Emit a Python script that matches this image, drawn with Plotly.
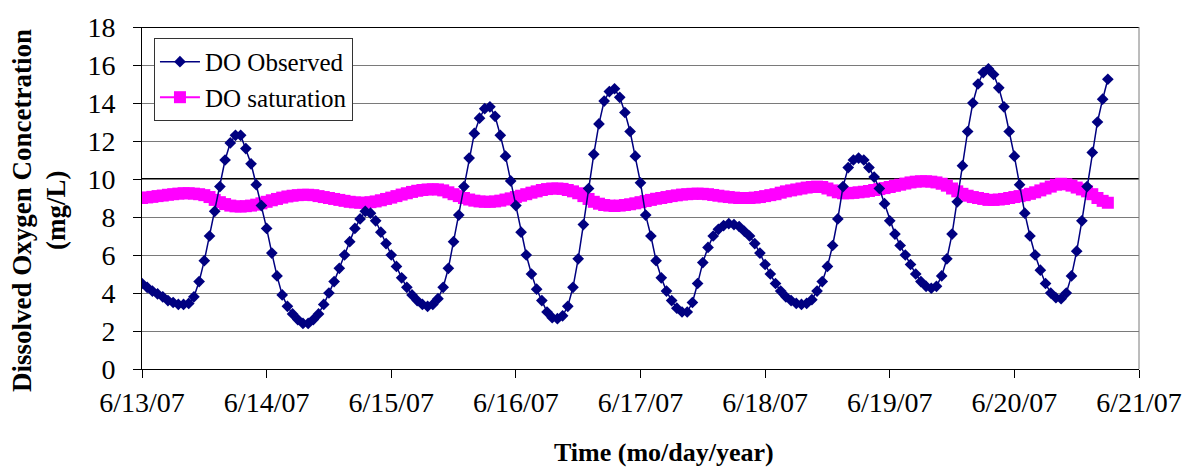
import plotly.graph_objects as go
import pandas as pd

start = "2007-06-13 00:00"
x_range = ["2007-06-13", "2007-06-21"]

do_observed = [
    4.5, 4.3, 4.1, 3.95, 3.8, 3.6, 3.5, 3.4, 3.4, 3.45, 3.8, 4.6, 5.7, 7.0, 8.3, 9.6, 11.0, 11.9, 12.3, 12.3,
    11.6, 10.8, 9.7, 8.6, 7.4, 6.1, 4.9, 3.9, 3.3, 2.9, 2.6, 2.4, 2.4, 2.6, 2.9, 3.4, 4.0, 4.6, 5.3, 6.0,
    6.7, 7.4, 7.9, 8.3, 8.2, 7.8, 7.2, 6.6, 6.0, 5.4, 4.8, 4.3, 3.9, 3.6, 3.4, 3.3, 3.4, 3.7, 4.3, 5.3,
    6.7, 8.1, 9.6, 11.1, 12.4, 13.2, 13.7, 13.8, 13.3, 12.3, 11.2, 9.9, 8.6, 7.2, 6.0, 5.0, 4.2, 3.6, 3.0, 2.7,
    2.65, 2.8, 3.3, 4.3, 5.8, 7.6, 9.5, 11.3, 12.9, 14.1, 14.6, 14.75, 14.3, 13.5, 12.5, 11.2, 9.8, 8.1, 7.0, 5.7,
    4.8, 4.1, 3.6, 3.2, 3.0, 3.0, 3.5, 4.5, 5.6, 6.4, 7.0, 7.35, 7.55, 7.65, 7.6, 7.5, 7.25, 7.0, 6.6, 6.1,
    5.5, 5.0, 4.5, 4.1, 3.8, 3.6, 3.45, 3.4, 3.45, 3.65, 4.1, 4.6, 5.4, 6.5, 7.9, 9.6, 10.6, 11.0, 11.1, 11.0,
    10.6, 10.1, 9.5, 8.7, 7.8, 7.1, 6.5, 6.0, 5.5, 5.0, 4.6, 4.35, 4.25, 4.35, 4.9, 5.8, 7.1, 8.8, 10.7, 12.5,
    14.0, 15.0, 15.6, 15.8, 15.5, 14.8, 13.8, 12.5, 11.2, 9.7, 8.2, 7.0, 6.0, 5.2, 4.5, 4.0, 3.75, 3.7, 4.0, 4.9,
    6.2, 7.8, 9.6, 11.4, 13.0, 14.2, 15.25,
]

do_saturation = [
    9.0, 9.03, 9.06, 9.1, 9.13, 9.17, 9.2, 9.23, 9.25, 9.25, 9.23, 9.2, 9.15,
    9.05, 8.9, 8.78, 8.68, 8.6, 8.56, 8.55,
    8.57, 8.6, 8.65, 8.72, 8.8, 8.88, 8.95, 9.02, 9.08, 9.12, 9.15, 9.17,
    9.17, 9.15, 9.1, 9.05, 9.0, 8.95, 8.9, 8.85, 8.8, 8.77, 8.75, 8.75,
    8.78, 8.82, 8.88, 8.95, 9.02, 9.1, 9.18, 9.25, 9.32, 9.38, 9.42, 9.45, 9.46, 9.45,
    9.4, 9.3, 9.2, 9.1, 9.0, 8.92, 8.86, 8.82, 8.8, 8.8,
    8.82, 8.86, 8.92, 8.98, 9.05, 9.12, 9.2, 9.28, 9.35, 9.42, 9.47, 9.5, 9.5, 9.48,
    9.42, 9.35, 9.25, 9.1, 8.95, 8.8, 8.7, 8.63, 8.6, 8.58, 8.6,
    8.63, 8.67, 8.72, 8.78, 8.84, 8.9, 8.96, 9.0, 9.05, 9.1, 9.14, 9.18, 9.2, 9.22, 9.23,
    9.22, 9.2, 9.16, 9.12, 9.08, 9.05, 9.02, 9.0, 9.0, 9.0,
    9.02, 9.05, 9.1, 9.15, 9.2, 9.28, 9.35, 9.4, 9.45, 9.5, 9.55, 9.58, 9.6, 9.58,
    9.5, 9.4, 9.3, 9.25, 9.25, 9.27, 9.3, 9.33,
    9.37, 9.42, 9.47, 9.52, 9.58, 9.64, 9.7, 9.76, 9.82, 9.86, 9.88, 9.88,
    9.86, 9.82, 9.75, 9.65, 9.5, 9.35, 9.22, 9.12, 9.05, 9.0, 8.95, 8.9, 8.9,
    8.92, 8.95, 9.0, 9.05, 9.1, 9.15, 9.22, 9.3, 9.4, 9.5, 9.6, 9.7, 9.75,
    9.72, 9.65, 9.55, 9.45, 9.35, 9.2, 9.0, 8.85, 8.75,
]

t_obs = pd.date_range(start, periods=len(do_observed), freq="h")
t_sat = pd.date_range(start, periods=len(do_saturation), freq="h")

SERIF = "Liberation Serif"

fig = go.Figure()
fig.add_trace(go.Scatter(
    x=t_sat, y=do_saturation, name="DO saturation", mode="lines+markers",
    line=dict(color="#FF00FF", width=2),
    marker=dict(symbol="square", size=12, color="#FF00FF"),
))
fig.add_trace(go.Scatter(
    x=t_obs, y=do_observed, name="DO Observed", mode="lines+markers",
    line=dict(color="#000080", width=1.5),
    marker=dict(symbol="diamond", size=9, color="#000080"),
))

fig.update_layout(
    width=1194, height=468,
    margin=dict(l=142, r=53, t=21, b=99),
    paper_bgcolor="white", plot_bgcolor="white",
    font=dict(family=SERIF, size=26, color="black"),
    showlegend=True,
    legend=dict(
        x=0.012, y=0.968, xanchor="left", yanchor="top",
        bgcolor="white", bordercolor="#333", borderwidth=1,
        font=dict(family=SERIF, size=25, color="black"),
        traceorder="reversed", itemwidth=40, tracegroupgap=0,
    ),
    xaxis=dict(
        type="date", range=x_range, dtick=86400000, tick0="2007-06-13",
        tickformat="%-m/%d/%y", showgrid=False, zeroline=False,
        showline=True, linecolor="black", linewidth=1,
        ticks="outside", ticklen=8, tickcolor="black",
        tickfont=dict(family=SERIF, size=28, color="black"),
    ),
    yaxis=dict(
        range=[0, 18], dtick=2, showgrid=True, gridcolor="#7a7a7a", gridwidth=1,
        zeroline=False, showline=True, linecolor="black", linewidth=1,
        ticks="outside", ticklen=8, tickcolor="black",
        tickfont=dict(family=SERIF, size=28, color="black"),
        ticklabelstandoff=12,
    ),
    shapes=[
        dict(type="line", xref="paper", yref="y", x0=0, x1=1, y0=10, y1=10,
             line=dict(color="black", width=2), layer="between"),
        dict(type="line", xref="paper", yref="y", x0=0, x1=1, y0=18, y1=18,
             line=dict(color="black", width=2), layer="between"),
        dict(type="line", xref="paper", yref="paper", x0=1, x1=1, y0=0, y1=1,
             line=dict(color="#7a7a7a", width=1), layer="between"),
    ],
    annotations=[
        dict(text="<b>Dissolved Oxygen Concetration</b>", xref="paper", yref="paper",
             x=0, y=0.5, xanchor="center", yanchor="middle", xshift=-120, yshift=-13,
             textangle=-90, showarrow=False, font=dict(family=SERIF, size=27, color="black")),
        dict(text="<b>(mg/L)</b>", xref="paper", yref="paper",
             x=0, y=0.5, xanchor="center", yanchor="middle", xshift=-86, yshift=-13,
             textangle=-90, showarrow=False, font=dict(family=SERIF, size=27, color="black")),
        dict(text="<b>Time (mo/day/year)</b>", xref="paper", yref="paper",
             x=0.524, y=0, xanchor="center", yanchor="middle", yshift=-83,
             showarrow=False, font=dict(family=SERIF, size=26, color="black")),
    ],
)

fig.write_html("out.html")
